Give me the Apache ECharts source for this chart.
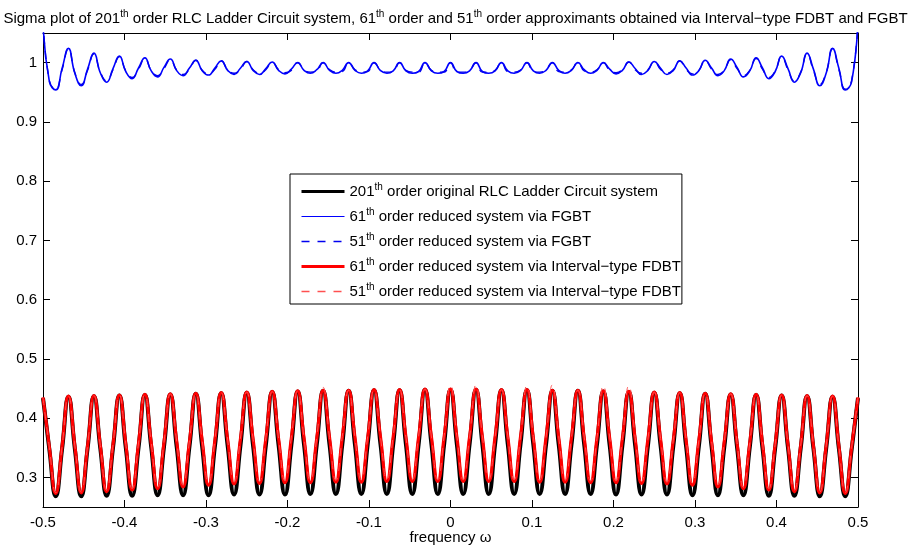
<!DOCTYPE html>
<html><head><meta charset="utf-8">
<script src="https://cdn.jsdelivr.net/npm/echarts@6/dist/echarts.min.js"></script>
<style>html,body{margin:0;padding:0;background:#fff}#c{width:911px;height:545px}</style>
</head><body><div id="c"></div>
<script>
// sample positions on the frequency axis
const xs = [-0.5,-0.4922,-0.4844,-0.4766,-0.4688,-0.4609,-0.4531,-0.4453,-0.4375,-0.4297,-0.4219,-0.4141,-0.4063,-0.3984,-0.3906,-0.3828,
-0.375,-0.3672,-0.3594,-0.3516,-0.3438,-0.3359,-0.3281,-0.3203,-0.3125,-0.3047,-0.2969,-0.2891,-0.2813,-0.2734,-0.2656,-0.2578,
-0.25,-0.2422,-0.2344,-0.2266,-0.2188,-0.2109,-0.2031,-0.1953,-0.1875,-0.1797,-0.1719,-0.1641,-0.1563,-0.1484,-0.1406,-0.1328,
-0.125,-0.1172,-0.1094,-0.1016,-0.0938,-0.0859,-0.0781,-0.0703,-0.0625,-0.0547,-0.0469,-0.0391,-0.0313,-0.0234,-0.0156,-0.0078,
0,
0.0078,0.0156,0.0234,0.0313,0.0391,0.0469,0.0547,0.0625,0.0703,0.0781,0.0859,0.0938,0.1016,0.1094,0.1172,0.125,
0.1328,0.1406,0.1484,0.1563,0.1641,0.1719,0.1797,0.1875,0.1953,0.2031,0.2109,0.2188,0.2266,0.2344,0.2422,0.25,
0.2578,0.2656,0.2734,0.2813,0.2891,0.2969,0.3047,0.3125,0.3203,0.3281,0.3359,0.3438,0.3516,0.3594,0.3672,0.375,
0.3828,0.3906,0.3984,0.4063,0.4141,0.4219,0.4297,0.4375,0.4453,0.4531,0.4609,0.4688,0.4766,0.4844,0.4922,0.5];

const xTickInterval = 0.1;
const yTicks = [0.3, 0.4, 0.5, 0.6, 0.7, 0.8, 0.9, 1];

// 201th order original system
const original201 = [
.434,.347,.268,.348, .436,.348,.268,.349, .437,.349,.269,.350, .438,.350,.269,.350,
.439,.351,.270,.351, .440,.351,.270,.352, .441,.352,.270,.352, .442,.353,.271,.353,
.443,.353,.271,.354, .444,.354,.271,.354, .445,.355,.272,.355, .446,.355,.272,.355,
.446,.355,.272,.356, .447,.356,.272,.356, .447,.356,.272,.356, .448,.356,.272,.356,
.448,
.356,.272,.356,.448, .356,.272,.356,.447, .356,.272,.356,.447, .356,.272,.355,.446,
.355,.272,.355,.446, .355,.272,.355,.445, .354,.271,.354,.444, .354,.271,.353,.443,
.353,.271,.353,.442, .352,.270,.352,.441, .352,.270,.351,.440, .351,.270,.351,.439,
.350,.269,.350,.438, .350,.269,.349,.437, .349,.268,.348,.436, .348,.268,.347,.434];

// 61th order via FGBT
const fgbt61 = [
1.07,0.968,0.954,0.990, 1.024,0.982,0.961,0.989, 1.016,0.983,0.967,0.990, 1.011,0.985,0.973,0.991,
1.008,0.986,0.976,0.992, 1.006,0.9865,0.978,0.991, 1.004,0.9865,0.979,0.991, 1.003,0.987,0.980,0.9905,
1.002,0.987,0.980,0.990, 1.001,0.987,0.981,0.989, 1.000,0.987,0.982,0.988, 1.000,0.987,0.982,0.987,
1.000,0.987,0.982,0.986, 1.000,0.9865,0.982,0.986, 1.000,0.986,0.982,0.985, 1.000,0.986,0.982,0.985,
1.000,
0.985,0.982,0.986,1.000, 0.985,0.982,0.986,1.000, 0.986,0.982,0.9865,1.000, 0.986,0.982,0.987,1.000,
0.987,0.982,0.987,1.000, 0.988,0.982,0.987,1.000, 0.989,0.981,0.987,1.001, 0.990,0.980,0.987,1.002,
0.9905,0.980,0.987,1.003, 0.991,0.979,0.9865,1.004, 0.991,0.978,0.9865,1.006, 0.992,0.976,0.986,1.008,
0.991,0.973,0.985,1.011, 0.990,0.967,0.983,1.016, 0.989,0.961,0.982,1.024, 0.990,0.954,0.968,1.07];

// 51th order via FGBT
const fgbt51 = [
1.07,0.970,0.955,0.988, 1.023,0.983,0.963,0.987, 1.015,0.984,0.969,0.988, 1.010,0.986,0.975,0.989,
1.007,0.987,0.978,0.990, 1.005,0.987,0.980,0.989, 1.004,0.987,0.981,0.989, 1.003,0.988,0.982,0.9885,
1.002,0.988,0.982,0.988, 1.001,0.988,0.983,0.987, 1.000,0.988,0.984,0.986, 1.000,0.988,0.984,0.985,
1.000,0.988,0.984,0.985, 1.000,0.9875,0.984,0.985, 1.000,0.987,0.984,0.984, 1.000,0.987,0.984,0.984,
1.000,
0.984,0.984,0.987,1.000, 0.984,0.984,0.987,1.000, 0.985,0.984,0.9875,1.000, 0.985,0.984,0.988,1.000,
0.985,0.984,0.988,1.000, 0.986,0.984,0.988,1.000, 0.987,0.983,0.988,1.001, 0.988,0.982,0.988,1.002,
0.9885,0.982,0.988,1.003, 0.989,0.981,0.987,1.004, 0.989,0.980,0.987,1.005, 0.990,0.978,0.987,1.007,
0.989,0.975,0.986,1.010, 0.988,0.969,0.984,1.015, 0.987,0.963,0.983,1.023, 0.988,0.955,0.970,1.07];

// 61th order via Interval-type FDBT
const fdbt61 = [
.435,.351,.273,.352, .437,.353,.274,.353, .438,.354,.276,.355, .439,.356,.279,.357,
.440,.358,.281,.358, .441,.360,.284,.360, .442,.362,.287,.362, .443,.363,.289,.364,
.444,.364,.290,.365, .445,.365,.291,.366, .446,.366,.291,.366, .447,.367,.292,.367,
.447,.367,.292,.367, .448,.368,.293,.368, .448,.368,.293,.368, .449,.368,.293,.368,
.449,
.368,.293,.368,.449, .368,.293,.368,.448, .368,.293,.368,.448, .367,.292,.367,.447,
.367,.292,.367,.447, .366,.291,.366,.446, .366,.291,.365,.445, .365,.290,.364,.444,
.364,.289,.363,.443, .362,.287,.362,.442, .360,.284,.360,.441, .358,.281,.358,.440,
.357,.279,.356,.439, .355,.276,.354,.438, .353,.274,.353,.437, .352,.273,.351,.435];

// 51th order via Interval-type FDBT
const fdbt51 = [
.435,.351,.274,.352, .437,.353,.275,.354, .438,.354,.278,.356, .439,.356,.281,.358,
.440,.358,.283,.359, .441,.360,.287,.362, .442,.362,.290,.364, .443,.363,.292,.366,
.444,.364,.293,.367, .445,.365,.294,.368, .446,.366,.294,.368, .452,.367,.295,.369,
.447,.367,.295,.369, .448,.368,.296,.370, .448,.368,.296,.370, .449,.368,.296,.370,
.456,
.370,.296,.368,.456, .370,.296,.368,.448, .370,.296,.368,.455, .369,.295,.367,.456,
.369,.295,.367,.447, .368,.294,.366,.455, .368,.294,.365,.455, .367,.293,.364,.444,
.366,.292,.363,.443, .364,.290,.362,.442, .362,.287,.360,.441, .359,.283,.358,.440,
.358,.281,.356,.439, .356,.278,.354,.438, .354,.275,.353,.437, .352,.274,.351,.435];

const seriesNames = [
  '201^th order original RLC Ladder Circuit system',
  '61^th order reduced system via FGBT',
  '51^th order reduced system via FGBT',
  '61^th order reduced system via Interval\u2212type FDBT',
  '51^th order reduced system via Interval\u2212type FDBT'
];
const titleText = 'Sigma plot of 201^th order RLC Ladder Circuit system, 61^th order and 51^th order approximants obtained via Interval\u2212type FDBT and FGBT';
const xName = 'frequency \u03c9';

const COL_BLACK = '#000000', COL_BLUE = '#0000ff', COL_BLUE2 = '#0000f0', COL_RED = '#ff0000', COL_RED2 = '#ff5050';
const DASH = [8, 7];

const FONT = '"Liberation Sans", Arial, Helvetica, sans-serif';
const FS = 15;
const rich = {
  n: { fontFamily: FONT, fontSize: FS, lineHeight: 19, color: '#000' },
  sup: { fontFamily: FONT, fontSize: 10, lineHeight: 10, verticalAlign: 'top', color: '#000' }
};
function fmt(s) {
  return s.split('^th').map(p => p ? '{n|' + p + '}' : '').join('{sup|th}');
}
function pairs(arr) { return xs.map((x, i) => [x, arr[i]]); }

const chart = echarts.init(document.getElementById('c'), null, { renderer: 'canvas' });
const axisCommon = {
  axisLine: { show: true, onZero: false, lineStyle: { color: '#000', width: 1 } },
  splitLine: { show: false }
};
const hideSym = { opacity: 0 };
const option = {
  animation: false,
  backgroundColor: '#fff',
  title: {
    text: fmt(titleText), left: 'center', top: 4,
    textStyle: { rich: rich, fontWeight: 'normal' }
  },
  legend: {
    orient: 'vertical', left: 290, top: 174,
    padding: [8, 1, 5, 10], itemGap: 8, itemWidth: 43, itemHeight: 14,
    borderColor: '#000', borderWidth: 1, backgroundColor: '#fff',
    selectedMode: false,
    formatter: fmt,
    textStyle: { rich: rich },
    data: [
      { name: seriesNames[0], lineStyle: { width: 3, color: COL_BLACK, type: 'solid', opacity: 1 }, itemStyle: hideSym },
      { name: seriesNames[1], lineStyle: { width: 1, color: COL_BLUE, type: 'solid', opacity: 1 }, itemStyle: hideSym },
      { name: seriesNames[2], lineStyle: { width: 1.3, color: COL_BLUE2, type: [8, 8], dashOffset: 0, opacity: 1 }, itemStyle: hideSym },
      { name: seriesNames[3], lineStyle: { width: 3, color: COL_RED, type: 'solid', opacity: 1 }, itemStyle: hideSym },
      { name: seriesNames[4], lineStyle: { width: 1.3, color: COL_RED2, type: [8, 8], dashOffset: 0, opacity: 1 }, itemStyle: hideSym }
    ]
  },
  grid: { left: 43, right: 53, top: 33, bottom: 38, outerBoundsMode: 'none', containLabel: false },
  xAxis: [
    Object.assign({
      type: 'value', min: -0.5, max: 0.5, interval: xTickInterval, position: 'bottom',
      axisTick: { show: true, inside: true, length: 7, lineStyle: { color: '#000' } },
      axisLabel: { color: '#000', fontFamily: FONT, fontSize: FS, margin: 8 },
      name: xName, nameLocation: 'middle', nameGap: 23, nameMoveOverlap: false,
      nameTextStyle: { color: '#000', fontFamily: FONT, fontSize: FS }
    }, axisCommon),
    Object.assign({
      type: 'value', min: -0.5, max: 0.5, interval: xTickInterval, position: 'top',
      axisTick: { show: true, inside: true, length: 7, lineStyle: { color: '#000' } },
      axisLabel: { show: false }
    }, axisCommon)
  ],
  yAxis: [
    Object.assign({
      type: 'value', min: 0.25, max: 1.05, position: 'left',
      axisTick: { show: true, inside: true, length: 7, customValues: yTicks, lineStyle: { color: '#000' } },
      axisLabel: { color: '#000', fontFamily: FONT, fontSize: FS, margin: 6, customValues: yTicks }
    }, axisCommon),
    Object.assign({
      type: 'value', min: 0.25, max: 1.05, position: 'right',
      axisTick: { show: true, inside: true, length: 7, customValues: yTicks, lineStyle: { color: '#000' } },
      axisLabel: { show: false, customValues: yTicks }
    }, axisCommon)
  ],
  series: [
    { type: 'line', name: seriesNames[0], data: pairs(original201), symbol: 'none', smooth: 0.5,
      lineStyle: { color: COL_BLACK, width: 4 }, itemStyle: { color: COL_BLACK } },
    { type: 'line', name: seriesNames[3], data: pairs(fdbt61), symbol: 'none', smooth: 0.5,
      lineStyle: { color: COL_RED, width: 3.2 }, itemStyle: { color: COL_RED } },
    { type: 'line', name: seriesNames[4], data: pairs(fdbt51), symbol: 'none', smooth: 0.5,
      lineStyle: { color: COL_RED2, width: 1, type: DASH }, itemStyle: { color: COL_RED2 } },
    { type: 'line', name: seriesNames[1], data: pairs(fgbt61), symbol: 'none', smooth: 0.5,
      lineStyle: { color: COL_BLUE, width: 1.6 }, itemStyle: { color: COL_BLUE } },
    { type: 'line', name: seriesNames[2], data: pairs(fgbt51), symbol: 'none', smooth: 0.5,
      lineStyle: { color: COL_BLUE2, width: 1.4, type: DASH }, itemStyle: { color: COL_BLUE2 } }
  ]
};
chart.setOption(option);
</script>
</body></html>
